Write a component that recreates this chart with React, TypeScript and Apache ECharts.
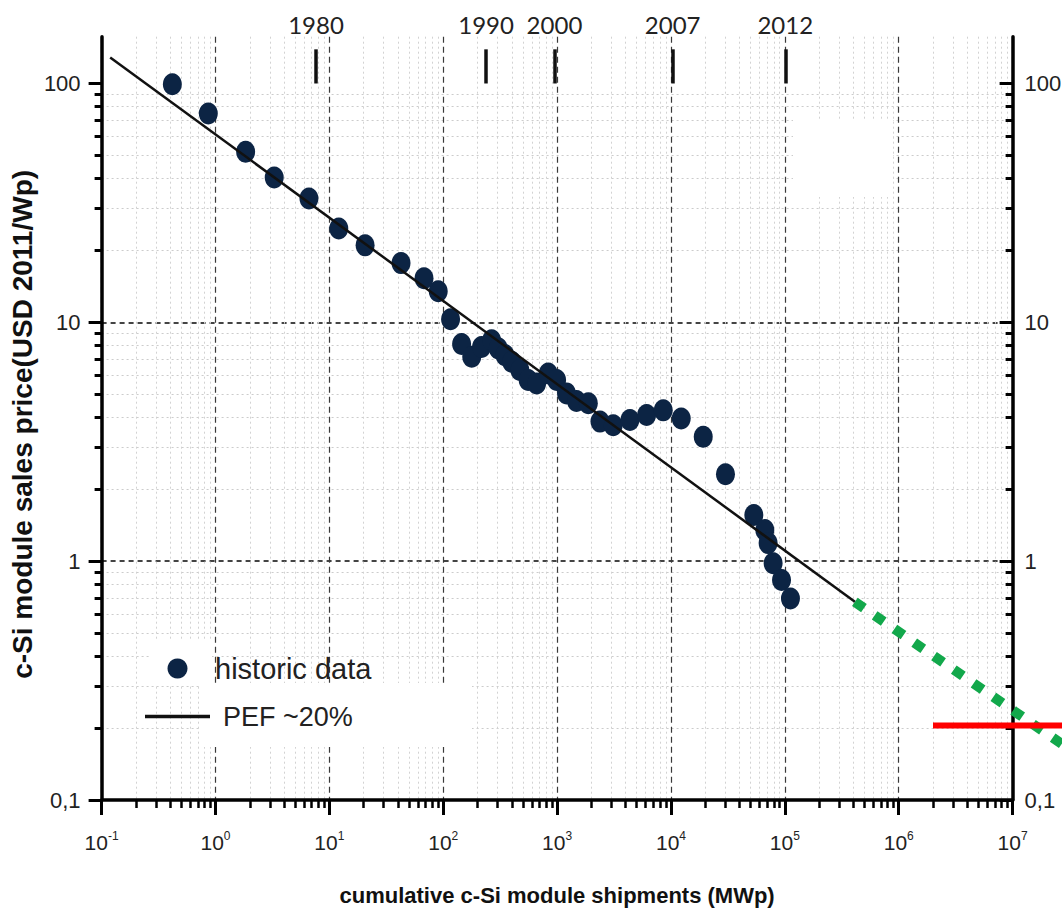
import React, { useEffect, useRef } from 'react';
import * as echarts from 'echarts';

// historic data: cumulative shipments (MWp) and price (USD 2011/Wp)
const histX = [0.418, 0.865, 1.84, 3.28, 6.62, 12.1, 20.6, 42.6, 67.8, 90.4, 116, 145, 178, 217, 266, 304, 348, 399, 471, 557, 661, 836, 990, 1210, 1480, 1880, 2380, 3110, 4360, 6110, 8550, 12300, 19200, 30100, 53400, 66700, 71300, 78900, 93500, 112000];
const histY = [99.3, 74.9, 51.8, 40.4, 33.0, 24.7, 21.0, 17.7, 15.3, 13.5, 10.3, 8.11, 7.18, 7.89, 8.41, 7.78, 7.29, 6.84, 6.31, 5.73, 5.55, 6.11, 5.73, 5.04, 4.68, 4.58, 3.84, 3.71, 3.9, 4.09, 4.28, 3.96, 3.32, 2.31, 1.56, 1.35, 1.19, 0.98, 0.834, 0.698];

// PEF ~20% fit line
const pefX = [0.119, 412000];
const pefY = [128.5, 0.676];

// green dotted projection
const projX = [412000, 30000000];
const projY = [0.676, 0.166];

// red target line
const targetX = [2000000, 30000000];
const targetY = [0.205, 0.205];

// year markers on top
const yearLabels = ['1980', '1990', '2000', '2007', '2012'];
const yearX = [7.64, 238, 948, 10350, 100900];
const yearTickFrom = 100;
const yearTickTo = 139;

const yTickValues = [0.1, 1, 10, 100];
const xMin = 0.1;
const xMax = 1e7;
const yMin = 0.1;
const yMax = 157;

const LABEL_FONT = "'Liberation Sans Narrow', 'Arial Narrow', 'Liberation Sans', Arial, sans-serif";
const BOLD = "'Liberation Sans', Arial, sans-serif";

const yLabel = (v: number) => (v < 0.5 ? '0,1' : String(Math.round(v)));
const xLabel = (v: number) => {
  const e = Math.round(Math.log10(v));
  return `{b|10}{s|${e}}`;
};

const segmentSeries = (name: string, xs: number[], ys: number[], style: any, extra: any = {}) => ({
  name,
  type: 'custom',
  z: 4,
  clip: false,
  silent: true,
  data: [[xs[0], ys[0], xs[1], ys[1]]],
  encode: { x: [0, 2], y: [1, 3] },
  renderItem: (_params: any, api: any) => {
    const p1 = api.coord([api.value(0), api.value(1)]);
    const p2 = api.coord([api.value(2), api.value(3)]);
    return {
      type: 'line',
      shape: { x1: p1[0], y1: p1[1], x2: p2[0], y2: p2[1] },
      style,
    };
  },
  ...extra,
});

export default function App() {
  const ref = useRef<HTMLDivElement>(null);
  useEffect(() => {
    const chart = echarts.init(ref.current!, null, { renderer: 'svg' });
    const yAxisCommon = {
      type: 'log',
      logBase: 10,
      min: yMin,
      max: yMax,
      axisLine: { show: true, onZero: false, lineStyle: { color: '#000', width: 3.5 } },
      axisLabel: {
        show: true,
        formatter: yLabel,
        customValues: yTickValues,
        fontFamily: LABEL_FONT,
        fontSize: 22,
        color: '#222',
        showMinLabel: true,
        showMaxLabel: true,
      },
    };
    const option: any = {
      animation: false,
      backgroundColor: '#ffffff',
      textStyle: { fontFamily: LABEL_FONT },
      grid: { left: 101.6, right: 49.4, top: 36.7, bottom: 112, outerBoundsMode: 'none' },
      legend: {
        orient: 'vertical',
        left: 140,
        top: 649,
        itemWidth: 65,
        itemHeight: 20,
        itemGap: 20,
        textStyle: { fontFamily: LABEL_FONT, fontSize: 29, color: '#222' },
        data: [
          { name: 'historic data', icon: 'circle', textStyle: { fontSize: 29, padding: [0, 0, 0, 0] } },
          { name: 'PEF ~20%', icon: 'path://M0,0 L65,0 L65,3.5 L0,3.5 Z', textStyle: { fontSize: 27, padding: [0, 0, 0, 8] } },
        ],
      },
      graphic: [
        { type: 'rect', z: 1, silent: true, shape: { x: 793, y: 120, width: 100, height: 77 }, style: { fill: '#fff' } },
        { type: 'rect', z: 1, silent: true, shape: { x: 200, y: 683, width: 272, height: 64 }, style: { fill: '#fff' } },
        { type: 'rect', z: 1, silent: true, shape: { x: 150, y: 640, width: 62, height: 44 }, style: { fill: '#fff' } },
      ],
      xAxis: {
        type: 'log',
        logBase: 10,
        min: xMin,
        max: xMax,
        name: 'cumulative c-Si module shipments (MWp)',
        nameLocation: 'middle',
        nameGap: 84,
        nameMoveOverlap: false,
        nameTextStyle: { fontFamily: BOLD, fontWeight: 'bold', fontSize: 22, color: '#111' },
        axisLine: { show: true, onZero: false, lineStyle: { color: '#000', width: 3.5 } },
        axisTick: { show: true, inside: false, length: 15, lineStyle: { color: '#000', width: 3 } },
        minorTick: { show: true, splitNumber: 9, length: 8, lineStyle: { color: '#000', width: 2.5 } },
        axisLabel: {
          show: true,
          margin: 30,
          formatter: xLabel,
          showMinLabel: true,
          showMaxLabel: true,
          rich: {
            b: { fontFamily: LABEL_FONT, fontSize: 21, color: '#222', lineHeight: 24 },
            s: { fontFamily: LABEL_FONT, fontSize: 12, color: '#222', lineHeight: 12, verticalAlign: 'top' },
          },
        },
        splitLine: { show: true, lineStyle: { color: '#3a3a3a', width: 1.2, type: [6, 4] } },
        minorSplitLine: { show: true, lineStyle: { color: '#d2d2d2', width: 1, type: [2, 3] } },
      },
      yAxis: [
        {
          ...yAxisCommon,
          position: 'left',
          name: 'c-Si module sales price(USD 2011/Wp)',
          nameLocation: 'middle',
          nameGap: 65,
          nameMoveOverlap: false,
          nameTextStyle: { fontFamily: BOLD, fontWeight: 'bold', fontSize: 28, color: '#111', padding: [0, 12, 0, 0] },
          axisTick: { show: true, inside: false, length: 13, customValues: yTickValues, lineStyle: { color: '#000', width: 3 } },
          minorTick: { show: true, splitNumber: 9, length: 7, lineStyle: { color: '#000', width: 3 } },
          axisLabel: { ...yAxisCommon.axisLabel, margin: 21 },
          splitLine: { show: true, showMinLine: false, showMaxLine: false, lineStyle: { color: '#444', width: 2, type: [5, 4] } },
          minorSplitLine: { show: true, lineStyle: { color: '#cccccc', width: 1, type: [2, 3] } },
        },
        {
          ...yAxisCommon,
          position: 'right',
          axisTick: { show: true, inside: true, length: 13, customValues: yTickValues, lineStyle: { color: '#000', width: 3 } },
          minorTick: { show: true, splitNumber: 9, length: 7, lineStyle: { color: '#000', width: 3 } },
          axisLabel: { ...yAxisCommon.axisLabel, margin: 12 },
          splitLine: { show: false },
          minorSplitLine: { show: false },
        },
      ],
      series: [
        {
          name: 'historic data',
          type: 'scatter',
          z: 3,
          symbol: 'circle',
          symbolSize: [19, 22],
          itemStyle: { color: '#0c2444', opacity: 1 },
          data: histX.map((x, i) => [x, histY[i]]),
        },
        {
          name: 'PEF ~20%',
          type: 'line',
          z: 4,
          symbol: 'none',
          lineStyle: { color: '#111', width: 2.5 },
          itemStyle: { color: '#111' },
          data: pefX.map((x, i) => [x, pefY[i]]),
        },
        segmentSeries('projection', projX, projY, { stroke: '#12a84b', lineWidth: 10, lineDash: [11, 13], lineCap: 'butt' }),
        segmentSeries('target', targetX, targetY, { stroke: '#ff0000', lineWidth: 6 }, {
          markLine: {
            silent: true,
            symbol: ['none', 'none'],
            lineStyle: { color: '#111', width: 3.5, type: 'solid' },
            label: { show: true, position: 'end', distance: 13, formatter: '{b}', fontFamily: 'Lato', fontSize: 24, color: '#222' },
            emphasis: { disabled: true },
            data: yearX.map((x, i) => [
              { coord: [x, yearTickFrom], name: yearLabels[i] },
              { coord: [x, yearTickTo] },
            ]),
          },
        }),
      ],
    };
    chart.setOption(option);
    return () => chart.dispose();
  }, []);
  return <div ref={ref} style={{ position: 'absolute', left: 0, top: 0, width: 1062, height: 912 }} />;
}
